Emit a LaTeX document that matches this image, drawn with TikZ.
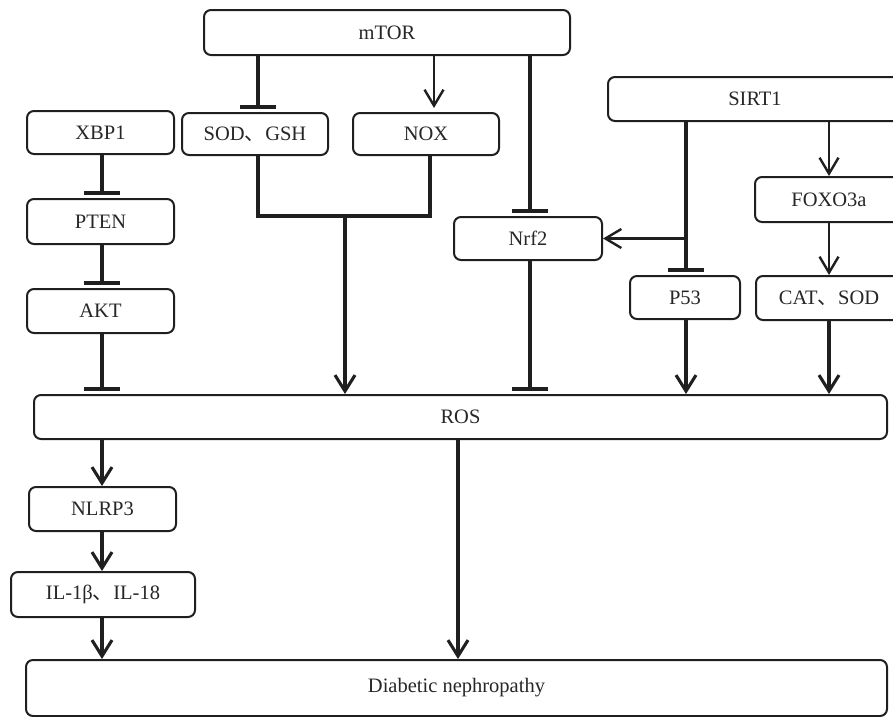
\documentclass[tikz,border=0pt]{standalone}
\usepackage{fontspec}
\setmainfont{Liberation Serif}
\newfontfamily\cjk{Noto Sans CJK SC}
\usetikzlibrary{arrows.meta}
\newcommand{\dun}{{\cjk 、}}
\begin{document}
\begin{tikzpicture}[x=1pt,y=-1pt,
  box/.style={draw=black!88, line width=2pt, rounded corners=7pt, inner sep=0pt,
    font=\fontsize{20.5}{24}\selectfont, text=black!85},
  act/.style={draw=black!88, line width=2.4pt, -{Straight Barb[length=16pt,width=19pt]}},
  actb/.style={draw=black!88, line width=3.1pt, -{Straight Barb[length=16pt,width=20pt]}},
  inh/.style={draw=black!88, line width=3.1pt, -{Bar[width=36pt,line width=3.6pt]}, shorten >=3.5pt},
  link/.style={draw=black!88, line width=3.1pt, line join=miter},
]
\useasboundingbox (0,0) rectangle (893,716);

% nodes
\node[box, minimum width=366pt, minimum height=45pt] (mTOR) at (387,32.5) {mTOR};
\node[box, minimum width=146pt, minimum height=42pt] (SOD) at (255,134) {SOD\dun GSH};
\node[box, minimum width=146pt, minimum height=42pt] (NOX) at (426,134) {NOX};
\node[box, minimum width=147pt, minimum height=43pt] (XBP1) at (100.5,132.5) {XBP1};
\node[box, minimum width=147pt, minimum height=45pt] (PTEN) at (100.5,221.5) {PTEN};
\node[box, minimum width=147pt, minimum height=44pt] (AKT) at (100.5,311) {AKT};
\node[box, minimum width=148pt, minimum height=43pt] (Nrf2) at (528,238.5) {Nrf2};
\node[box, minimum width=294pt, minimum height=44pt] (SIRT1) at (755,99) {SIRT1};
\node[box, minimum width=110pt, minimum height=43pt] (P53) at (685,297.5) {P53};
\node[box, minimum width=148pt, minimum height=45pt] (FOXO) at (829,199.5) {FOXO3a};
\node[box, minimum width=146pt, minimum height=44pt] (CAT) at (829,298) {CAT\dun SOD};
\node[box, minimum width=853pt, minimum height=44pt] (ROS) at (460.5,417) {ROS};
\node[box, minimum width=147pt, minimum height=44pt] (NLRP3) at (102.5,509) {NLRP3};
\node[box, minimum width=184pt, minimum height=45pt] (IL) at (103,594.5) {IL-1β\dun IL-18};
\node[box, minimum width=861pt, minimum height=56pt] (DN) at (456.5,688) {Diabetic nephropathy};

% line positions
\coordinate (xa) at (258,0);
\coordinate (xb) at (434,0);
\coordinate (xc) at (430,0);
\coordinate (xd) at (345,0);
\coordinate (xe) at (530,0);
\coordinate (xf) at (102,0);
\coordinate (xg) at (686,0);
\coordinate (xh) at (829,0);
\coordinate (xi) at (458,0);
\coordinate (ym) at (0,216);

% mTOR branch
\draw[inh] (mTOR.south -| xa) -- (SOD.north -| xa);
\draw[act, shorten >=4pt] (mTOR.south -| xb) -- (NOX.north -| xb);
\draw[inh] (mTOR.south -| xe) -- (Nrf2.north -| xe);
\draw[link] (SOD.south -| xa) -- (xa |- ym) -- (xc |- ym) -- (NOX.south -| xc);
\draw[actb] (xd |- ym) -- (ROS.north -| xd);
\draw[inh] (Nrf2.south -| xe) -- (ROS.north -| xe);

% left column
\draw[inh] (XBP1.south -| xf) -- (PTEN.north -| xf);
\draw[inh] (PTEN.south -| xf) -- (AKT.north -| xf);
\draw[inh] (AKT.south -| xf) -- (ROS.north -| xf);

% SIRT1 branch
\draw[inh] (SIRT1.south -| xg) -- (P53.north -| xg);
\draw[act] (xg |- Nrf2.east) -- (Nrf2.east);
\draw[act] (SIRT1.south -| xh) -- (FOXO.north -| xh);
\draw[act] (FOXO.south -| xh) -- (CAT.north -| xh);
\draw[actb] (P53.south -| xg) -- (ROS.north -| xg);
\draw[actb] (CAT.south -| xh) -- (ROS.north -| xh);

% lower part
\draw[actb] (ROS.south -| xf) -- (NLRP3.north -| xf);
\draw[actb] (NLRP3.south -| xf) -- (IL.north -| xf);
\draw[actb] (IL.south -| xf) -- (DN.north -| xf);
\draw[actb] (ROS.south -| xi) -- (DN.north -| xi);
\end{tikzpicture}
\end{document}
